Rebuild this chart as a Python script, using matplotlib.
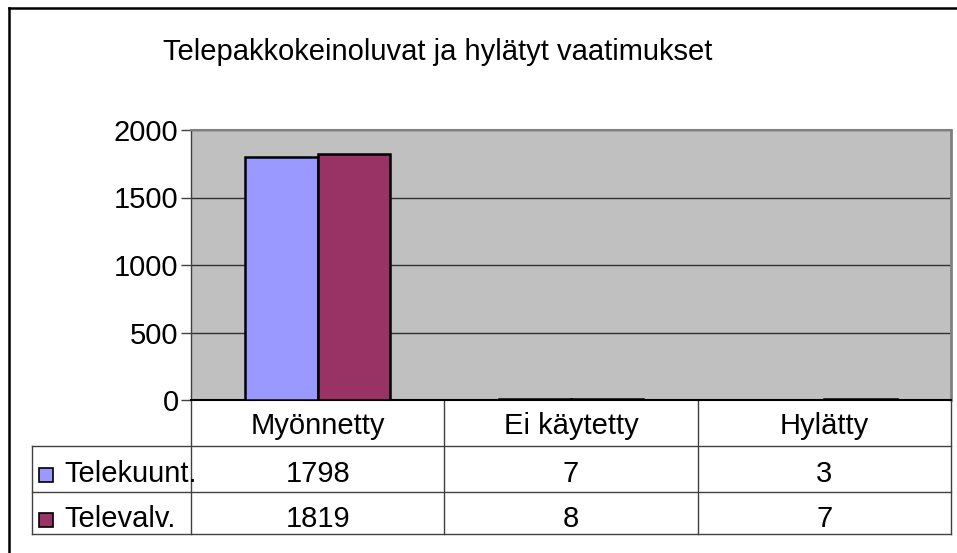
import matplotlib
matplotlib.use('Agg')
import matplotlib.pyplot as plt
import matplotlib.transforms as mtransforms
from matplotlib.lines import Line2D
from matplotlib.patches import Rectangle

plt.rcParams['font.family'] = ['Liberation Sans', 'DejaVu Sans']

# data
categories = ['Myönnetty', 'Ei käytetty', 'Hylätty']
series_names = ['Telekuunt.', 'Televalv.']
telekuunt = [1798, 7, 3]
televalv = [1819, 8, 7]
colors = ['#9999FF', '#993366']
title = 'Telepakkokeinoluvat ja hylätyt vaatimukset'
yticks = [0, 500, 1000, 1500, 2000]

W, H = 957, 553
FS = 21

def fx(x):
    return x / W

def fy(y):
    return 1 - y / H

fig = plt.figure(figsize=(W / 100, H / 100), dpi=100)
ax = fig.add_axes([fx(191), fy(400), fx(951) - fx(191), fy(130) - fy(400)])
ax.set_facecolor('#C0C0C0')

# bars, gap width 150%
w = 1 / 3.5
xs = list(range(len(categories)))
for k, vals in enumerate([telekuunt, televalv]):
    off = (k - 0.5) * w
    ax.bar([x + off for x in xs], vals, width=w, color=colors[k],
           edgecolor='black', linewidth=1.8, zorder=3)

ax.set_xlim(-0.5, len(categories) - 0.5)
ax.set_ylim(0, 2000)
ax.set_yticks(yticks)
ax.set_yticklabels([str(t) for t in yticks])
ax.set_xticks([])
ax.tick_params(axis='y', labelsize=FS, length=7, width=1, color='#404040', pad=2)
ax.yaxis.grid(True, color='#303030', linewidth=1)
ax.set_axisbelow(True)

ax.spines['left'].set_color('#404040')
ax.spines['left'].set_linewidth(1)
ax.spines['bottom'].set_color('black')
ax.spines['bottom'].set_linewidth(1.5)
ax.spines['top'].set_color('#808080')
ax.spines['top'].set_linewidth(1.5)
ax.spines['right'].set_color('#808080')
ax.spines['right'].set_linewidth(2)

# title
fig.text(fx(438), fy(60), title, ha='center', va='baseline', fontsize=FS)

# data table under the axis
blend = mtransforms.blended_transform_factory(ax.transData, fig.transFigure)
lc = '#404040'
for b in range(len(categories) + 1):
    xb = b - 0.5
    ax.add_line(Line2D([xb, xb], [fy(400), fy(534)], transform=blend,
                       color=lc, lw=1, clip_on=False))
for yy in [446, 492, 534]:
    fig.add_artist(Line2D([fx(32), fx(951)], [fy(yy), fy(yy)], color=lc, lw=1))
fig.add_artist(Line2D([fx(32), fx(32)], [fy(446), fy(534)], color=lc, lw=1))

for i, c in enumerate(categories):
    ax.text(i, fy(434), c, transform=blend, ha='center', va='baseline',
            fontsize=FS, clip_on=False)

rows = [telekuunt, televalv]
baselines = [482, 527]
for k, vals in enumerate(rows):
    for i, v in enumerate(vals):
        ax.text(i, fy(baselines[k]), str(v), transform=blend, ha='center',
                va='baseline', fontsize=FS, clip_on=False)
    fig.add_artist(Rectangle((fx(39), fy(baselines[k])), fx(14), 14 / H,
                             facecolor=colors[k], edgecolor='black', lw=1.2))
    fig.text(fx(64), fy(baselines[k]), series_names[k], ha='left',
             va='baseline', fontsize=FS)

# outer chart frame (cropped at right and bottom)
fig.add_artist(Line2D([fx(9), fx(9)], [fy(8), 0], color='black', lw=1.8))
fig.add_artist(Line2D([fx(9), 1], [fy(8), fy(8)], color='black', lw=1.8))

fig.savefig('out.png', dpi=100)
